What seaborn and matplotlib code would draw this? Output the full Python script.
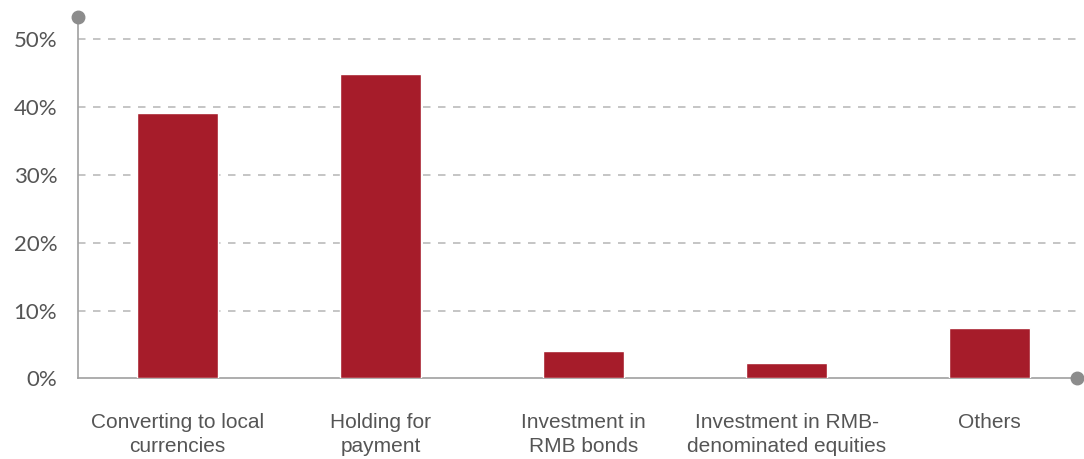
import matplotlib
matplotlib.use("Agg")
import matplotlib.pyplot as plt
import seaborn as sns
import pandas as pd

categories = [
    "Converting to local\ncurrencies",
    "Holding for\npayment",
    "Investment in\nRMB bonds",
    "Investment in RMB-\ndenominated equities",
    "Others",
]
shares = [39.1, 44.9, 4.1, 2.3, 7.5]
y_ticks = [0, 10, 20, 30, 40, 50]
y_tick_labels = ["0%", "10%", "20%", "30%", "40%", "50%"]

df = pd.DataFrame({"use": categories, "share": shares})

sns.set_theme(style="white")
plt.rcParams["font.family"] = ["Liberation Sans", "DejaVu Sans"]

fig = plt.figure(figsize=(10.84, 4.59), dpi=100)
ax = fig.add_axes([0.072, 0.1754, 0.9215, 0.7876])

bar_color = "#A61C2A"
sns.barplot(data=df, x="use", y="share", color=bar_color, width=0.4,
            saturation=1, ax=ax, zorder=3)

ax.set_xlim(-0.49, 4.43)
ax.set_ylim(0, 53.3)
ax.set_yticks(y_ticks)
ax.set_yticklabels(y_tick_labels, fontsize=16, color="#555555", family="Lato")
ax.tick_params(axis="y", length=0, pad=15)
ax.tick_params(axis="x", length=0, pad=25)
for lbl in ax.get_xticklabels():
    lbl.set_fontsize(15)
    lbl.set_color("#555555")
    lbl.set_linespacing(1.3)
ax.set_xlabel("")
ax.set_ylabel("")

# dashed horizontal guides above the baseline
for t in y_ticks[1:]:
    ax.axhline(t, color="#BBBBBB", linewidth=1.2, linestyle=(0, (4.5, 4.5)), zorder=1)

for side in ["top", "right"]:
    ax.spines[side].set_visible(False)
for side in ["left", "bottom"]:
    ax.spines[side].set_color("#A0A0A0")
    ax.spines[side].set_linewidth(1.2)

# end caps on the axis lines
ax.plot([0], [1], marker="o", markersize=9, color="#8C8C8C",
        transform=ax.transAxes, clip_on=False, zorder=5)
ax.plot([1], [0], marker="o", markersize=9, color="#8C8C8C",
        transform=ax.transAxes, clip_on=False, zorder=5)

fig.savefig("out.png", dpi=100, facecolor="white")
